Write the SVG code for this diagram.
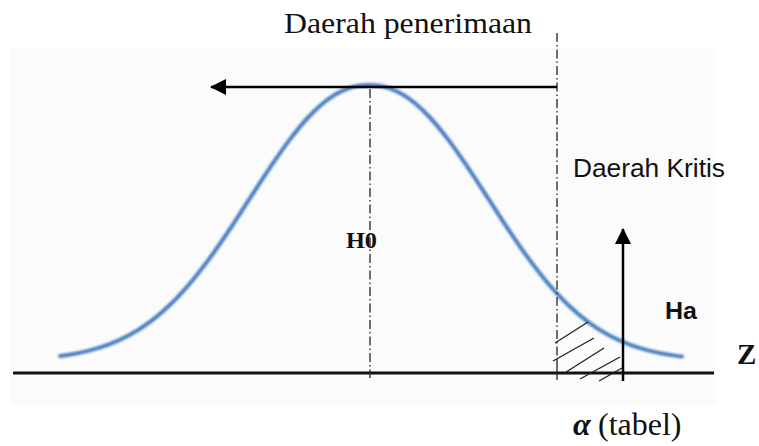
<svg xmlns="http://www.w3.org/2000/svg" width="759" height="446" viewBox="0 0 759 446">
<style>
.serif{font-family:"Liberation Serif","Times New Roman",serif;fill:#111}
.sans{font-family:"Liberation Sans",Arial,sans-serif;fill:#111}
.dd{stroke:#222;stroke-width:1.3;fill:none;stroke-dasharray:9 3 1.5 3}
.hatch{stroke:#222;stroke-width:1.3;fill:none}
.arrow{stroke:#000;stroke-width:2.5;fill:none}
</style>
<defs>
<filter id="blur" x="-5%" y="-5%" width="110%" height="110%"><feGaussianBlur stdDeviation="0.9"/></filter>
<filter id="blur2" x="-5%" y="-50%" width="110%" height="200%"><feGaussianBlur stdDeviation="0.7"/></filter>
<marker id="ah" viewBox="0 0 16 16" refX="15" refY="8" markerWidth="16" markerHeight="16" markerUnits="userSpaceOnUse" orient="auto">
<path d="M0,0 L16,8 L0,16 Z" fill="#000"/>
</marker>
</defs>
<rect x="0" y="0" width="759" height="446" fill="#fff"/>
<rect x="10" y="48" width="706" height="357" fill="#fbfbfb"/>
<g id="curve">
<path d="M60,356 C63,355.7 66,355.1 69,354.7 C75.7,353.7 82.3,352.3 89,350.6 C95.7,348.9 102.3,347 109,344.4 C115.7,341.9 122.3,338.9 129,335.3 C135.7,331.7 142.3,327.5 149,322.6 C155.7,317.7 162.3,312.1 169,305.7 C175.7,299.4 182.3,292.3 189,284.5 C195.7,276.7 202.3,268.1 209,259.1 C215.7,250.1 222.3,240.3 229,230.4 C235.7,220.5 242.3,209.9 249,199.7 C255.7,189.5 262.3,178.9 269,169.1 C275.7,159.3 282.3,149.4 289,140.6 C295.7,131.8 302.3,123.5 309,116.5 C315.7,109.5 322.3,103.3 329,98.6 C335.7,93.9 342.3,90.4 349,88.1 C355.7,85.8 362.3,85 369,85 C375.7,85 382.3,85.8 389,88.1 C395.7,90.4 402.3,93.9 409,98.6 C415.7,103.3 422.3,109.5 429,116.5 C435.7,123.5 442.3,131.8 449,140.6 C455.7,149.4 462.3,159.3 469,169.1 C475.7,178.9 482.3,189.5 489,199.7 C495.7,209.9 502.3,220.5 509,230.4 C515.7,240.3 522.3,250.1 529,259.1 C535.7,268.1 542.3,276.7 549,284.5 C555.7,292.3 562.3,299.4 569,305.7 C575.7,312.1 582.3,317.7 589,322.6 C595.7,327.5 602.3,331.7 609,335.3 C615.7,338.9 622.3,341.9 629,344.4 C635.7,347 642.3,348.9 649,350.6 C655.7,352.3 662.3,353.7 669,354.7 C673.3,355.3 678.7,356.3 682,356.5" fill="none" stroke="#4a7fc1" stroke-width="4" stroke-linecap="round" filter="url(#blur)"/>
</g>
<g id="axis">
<line x1="13" y1="373" x2="714" y2="373" stroke="#888" stroke-width="6" filter="url(#blur2)"/>
<line x1="13" y1="373" x2="714" y2="373" stroke="#111" stroke-width="3"/>
</g>
<g id="guides">
<line class="dd" x1="370" y1="89" x2="370" y2="378"/>
<line class="dd" x1="557" y1="33" x2="557" y2="362"/>
<line class="hatch" x1="557" y1="360" x2="557" y2="380"/>
</g>
<g id="critical-region">
<line class="hatch" x1="555" y1="343" x2="588" y2="322"/>
<line class="hatch" x1="553" y1="361" x2="594" y2="338"/>
<line class="hatch" x1="563" y1="374" x2="604" y2="348"/>
<line class="hatch" x1="580" y1="379" x2="620" y2="357"/>
<line class="hatch" x1="599" y1="381" x2="622" y2="368"/>
</g>
<g id="connectors">
<line class="arrow" x1="557" y1="87" x2="211" y2="87" marker-end="url(#ah)"/>
<line class="arrow" x1="623" y1="381" x2="623" y2="229" marker-end="url(#ah)"/>
</g>
<g id="label-penerimaan"><text class="serif" x="284" y="33" font-size="30" textLength="248" lengthAdjust="spacingAndGlyphs">Daerah penerimaan</text></g>
<g id="label-kritis"><text class="sans" x="573" y="177" font-size="26" textLength="152" lengthAdjust="spacingAndGlyphs">Daerah Kritis</text></g>
<g id="label-h0"><text class="serif" x="346" y="248" font-size="24" font-weight="bold" textLength="31" lengthAdjust="spacingAndGlyphs">H0</text></g>
<g id="label-ha"><text class="sans" x="665" y="319" font-size="23" font-weight="bold" textLength="32" lengthAdjust="spacingAndGlyphs">Ha</text></g>
<g id="label-z"><text class="serif" x="737" y="364" font-size="29" font-weight="bold">Z</text></g>
<g id="label-alpha"><text class="serif" x="573" y="435" font-size="32"><tspan font-weight="bold" font-style="italic">α</tspan><tspan x="598">(tabel)</tspan></text></g>
</svg>
